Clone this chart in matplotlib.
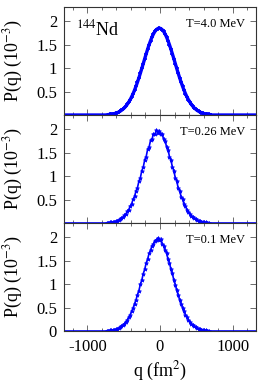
import matplotlib
matplotlib.use('Agg')
import matplotlib.pyplot as plt
import numpy as np
from matplotlib.ticker import MultipleLocator

plt.rcParams['font.family'] = ['Liberation Serif', 'DejaVu Serif']
plt.rcParams['mathtext.fontset'] = 'stix'
plt.rcParams['axes.unicode_minus'] = False

# sample grids (fm^2) for the three panels
q_top = np.arange(-710, 691, 20)
q_mid = np.arange(-730, 671, 20)
q_bot = np.arange(-730, 671, 20)

# P(q) in units of 1e-3
p_top = [0.009, 0.012, 0.017, 0.022, 0.029, 0.038, 0.049, 0.062, 0.079, 0.099,
         0.124, 0.153, 0.188, 0.228, 0.275, 0.328, 0.388, 0.455, 0.530, 0.611,
         0.699, 0.792, 0.890, 0.992, 1.096, 1.200, 1.303, 1.402, 1.497, 1.583,
         1.660, 1.726, 1.779, 1.818, 1.842, 1.850, 1.842, 1.818, 1.779, 1.726,
         1.660, 1.583, 1.497, 1.402, 1.303, 1.200, 1.096, 0.992, 0.890, 0.792,
         0.699, 0.611, 0.530, 0.455, 0.388, 0.328, 0.275, 0.228, 0.188, 0.153,
         0.124, 0.099, 0.079, 0.062, 0.049, 0.038, 0.029, 0.022, 0.017, 0.012,
         0.009]
p_mid = [0.006, 0.008, 0.011, 0.015, 0.020, 0.027, 0.036, 0.047, 0.062, 0.076,
         0.103, 0.122, 0.162, 0.190, 0.245, 0.284, 0.358, 0.408, 0.505, 0.565,
         0.682, 0.752, 0.889, 0.965, 1.115, 1.190, 1.348, 1.415, 1.570, 1.618,
         1.760, 1.782, 1.900, 1.890, 1.975, 1.925, 1.968, 1.885, 1.895, 1.780,
         1.755, 1.620, 1.565, 1.415, 1.350, 1.190, 1.118, 0.962, 0.893, 0.748,
         0.685, 0.562, 0.505, 0.410, 0.356, 0.286, 0.243, 0.192, 0.159, 0.124,
         0.101, 0.078, 0.060, 0.047, 0.036, 0.027, 0.020, 0.015, 0.011, 0.008,
         0.006]
p_bot = [0.006, 0.008, 0.011, 0.015, 0.020, 0.028, 0.035, 0.048, 0.060, 0.079,
         0.098, 0.128, 0.155, 0.198, 0.236, 0.295, 0.346, 0.422, 0.488, 0.584,
         0.660, 0.775, 0.862, 0.992, 1.085, 1.222, 1.315, 1.448, 1.532, 1.652,
         1.722, 1.815, 1.858, 1.925, 1.935, 1.980, 1.930, 1.950, 1.860, 1.820,
         1.720, 1.655, 1.530, 1.450, 1.315, 1.225, 1.085, 0.990, 0.865, 0.772,
         0.662, 0.580, 0.490, 0.420, 0.348, 0.293, 0.238, 0.196, 0.156, 0.127,
         0.099, 0.079, 0.060, 0.048, 0.035, 0.028, 0.020, 0.015, 0.011, 0.008,
         0.006]

# flat tails on both sides
tail_left = [-1320, -1100, -900, -750]
tail_right = [650, 900, 1100, 1320]

labels = ['T=4.0 MeV', 'T=0.26 MeV', 'T=0.1 MeV']
series = [(q_top, p_top), (q_mid, p_mid), (q_bot, p_bot)]

fig = plt.figure(figsize=(2.70, 3.86), dpi=100)
left, width = 64 / 270, 192 / 270
h = 108 / 386
bottoms = [1 - 115 / 386, 1 - 223 / 386, 1 - 331 / 386]

blue = '#0000ff'
for i, ((q, p), lab) in enumerate(zip(series, labels)):
    ax = fig.add_axes([left, bottoms[i], width, h])
    ax.plot(tail_left + list(q) + tail_right, [0] * 4 + list(p) + [0] * 4,
            color=blue, lw=2.4 if i == 0 else 1.2, zorder=2)
    if i == 0:
        ax.plot(q, p, ls='none', marker='+', ms=3, mew=1.2, color=blue)
    else:
        ax.plot(q, p, ls='none', marker='*', ms=3, mew=0.5, color=blue)
    ax.set_xlim(-1320, 1320)
    ax.set_ylim(0, 2.3)
    ax.xaxis.set_major_locator(MultipleLocator(1000))
    ax.xaxis.set_minor_locator(MultipleLocator(200))
    ax.tick_params(which='both', direction='in', top=True, right=True,
                   labelsize=12)
    ax.tick_params(axis='y', pad=5)
    ax.tick_params(axis='x', pad=6)
    ax.tick_params(which='major', length=4, width=0.6, color='#555555')
    ax.tick_params(which='minor', length=2, width=0.6, color='#555555')
    for s in ax.spines.values():
        s.set_linewidth(0.8)
        s.set_color('#333333')
    ax.set_yticks([0.5, 1, 1.5, 2] if i < 2 else [0, 0.5, 1, 1.5, 2])
    ax.set_yticklabels(['0.5', '1', '1.5', '2'] if i < 2 else ['0', '0.5', '1', '1.5', '2'])
    ax.set_ylabel(r'P(q) (10$^{-3}$)', fontsize=13)
    ax.yaxis.set_label_coords(-0.205, 0.5)
    ax.text(0.945, 0.84, lab, transform=ax.transAxes, ha='right', va='center',
            fontsize=9)
    if i == 0:
        ax.text(0.06, 0.79, r'$^{144}$Nd', transform=ax.transAxes,
                ha='left', va='center', fontsize=13)
    if i < 2:
        ax.tick_params(labelbottom=False)
    else:
        ax.set_xticks([-1000, 0, 1000])
        ax.set_xlabel(r'q (fm$^2$)', fontsize=13, labelpad=3)

fig.savefig('out.png', dpi=100, facecolor='white')
